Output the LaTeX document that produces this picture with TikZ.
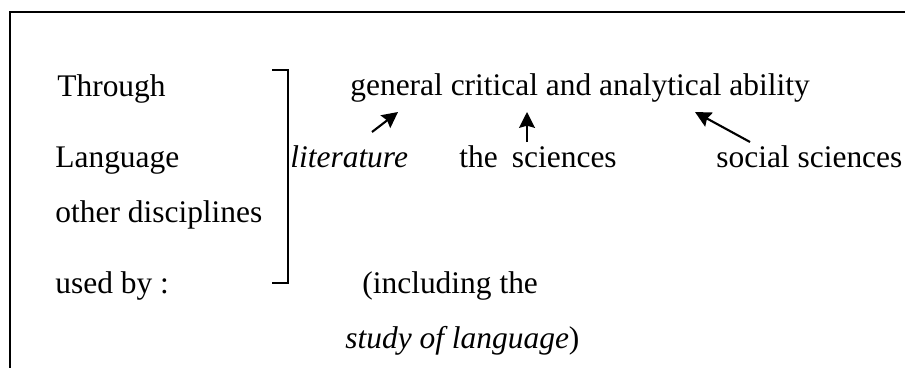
\documentclass[tikz,border=0pt]{standalone}
\usepackage{fontspec}
\setmainfont{Liberation Serif}
\usetikzlibrary{arrows, arrows.meta, positioning}
\tikzstyle{txt} = [inner sep=0pt, anchor=base west, font=\fontsize{17.9}{22}\selectfont]
\tikzstyle{frame} = [line width=1.1pt]
\tikzstyle{bracket} = [line width=1.1pt]
\tikzstyle{arrow} = [line width=1.2pt, -{Stealth[length=9pt, width=9pt, inset=1.2pt]}]
\begin{document}
\begin{tikzpicture}[x=0.02cm, y=-0.02cm]
		\useasboundingbox (0,0) rectangle (905,368);
		\draw [frame] (10,368) -- (10,12) -- (905,12);
		% left column
		\node (Through) [txt] at (57,96) {Through};
		\node (Language) [txt] at (55,167) {Language};
		\node (Other) [txt] at (55,222) {other disciplines};
		\node (UsedBy) [txt] at (55,293) {used by :};
		% bracket
		\coordinate (BracketTop) at (288,70);
		\coordinate (BracketBottom) at (288,283);
		\draw [bracket] (BracketTop) ++(-16,0) -- (BracketTop) -- (BracketBottom) -- ++(-16,0);
		% right part
		\node (Ability) [txt] at (350,95) {general critical and analytical ability};
		\node (Literature) [txt] at (290,167) {\itshape literature};
		\node (Sciences) [txt] at (459,167) {the\hspace{0.45em}sciences};
		\node (Social) [txt] at (716,167) {social sciences};
		\node (Including) [txt] at (362,293) {(including the};
		\node (Study) [txt] at (345,348) {\itshape study of language\/\upshape)};
		% arrows
		\coordinate (LitTail) at (372,132);
		\coordinate (LitTip) at (398,112);
		\coordinate (SciTail) at (527,142);
		\coordinate (SciTip) at (527,112);
		\coordinate (SocTail) at (750,142);
		\coordinate (SocTip) at (695,112);
		\draw [arrow] (LitTail) -- (LitTip);
		\draw [arrow] (SciTail) -- (SciTip);
		\draw [arrow] (SocTail) -- (SocTip);
\end{tikzpicture}
\end{document}
